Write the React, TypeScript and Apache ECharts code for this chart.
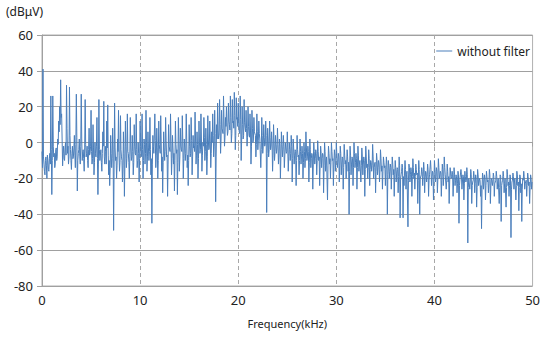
import React, { useEffect, useRef } from "react";
import * as echarts from "echarts";

const xTicks = [0, 10, 20, 30, 40, 50];
const yTicks = [-80, -60, -40, -20, 0, 20, 40, 60];
const seriesName = "without filter";
const xStep = 0.1;

// dBµV peak readings, 10 samples per kHz at f = k.0 … k.9
const v00 = [-5, 41, -12, -18, -8, -20, -10, -16, -6, 26];
const v01 = [-29, 26, -8, -14, -4, -10, 2, 12, 20, 35];
const v02 = [16, -13, -2, -10, 0, 32, -6, -12, 31, -4];
const v03 = [-15, -2, -8, 4, -14, 27, -27, -6, 2, -12];
const v04 = [27, -10, -4, -16, 24, -8, -2, -14, 8, -6];
const v05 = [18, -12, 10, -18, 0, -8, 14, -29, 24, -10];
const v06 = [-4, -16, 6, 23, -12, -2, 12, 21, -18, -24];
const v07 = [4, -14, 8, -49, 22, -10, -20, 2, 18, -16];
const v08 = [15, -8, -22, 6, -30, 12, -14, 16, -6, -20];
const v09 = [14, -10, 4, -18, 10, -6, 16, -14, 0, -22];
const v10 = [12, -8, 16, -20, 2, -12, 18, -16, 6, -10];
const v11 = [14, -18, -45, 4, -6, 16, -14, 8, -20, 12];
const v12 = [-4, 15, -16, -28, 6, -10, 14, -8, -30, 10];
const v13 = [-2, 16, -18, 4, -12, -27, 12, -6, -29, 14];
const v14 = [-16, 8, -4, 15, -20, 2, -10, 16, -14, -24];
const v15 = [10, -8, 14, -18, 4, -2, 17, -12, 6, -20];
const v16 = [12, -6, 16, -16, 0, 14, -10, 8, -18, 15];
const v17 = [-4, 12, -14, 6, 16, -8, 18, -33, 10, 22];
const v18 = [2, 24, -6, 18, 8, 26, -2, 14, 20, 4];
const v19 = [22, 10, 26, 0, 24, 12, 28, -4, 25, 14];
const v20 = [22, 6, 26, -10, 20, 2, 24, 8, 18, -2];
const v21 = [20, 4, 16, -12, 18, 0, 14, 6, -8, 16];
const v22 = [-4, 12, 2, -14, 14, -6, 10, -2, 12, -39];
const v23 = [8, -8, 12, -4, 6, -16, 10, -10, 4, -6];
const v24 = [8, -12, 2, -20, 6, -8, 4, -14, 0, -6];
const v25 = [6, -16, 0, -10, 4, -22, 2, -12, -4, -24];
const v26 = [4, -8, -18, 2, -12, -2, -20, 0, -14, 6];
const v27 = [-10, -2, -22, 2, -14, -6, -26, 0, -12, -4];
const v28 = [-18, 1, -10, -24, -2, -14, -6, -28, 0, -16];
const v29 = [-8, -32, -2, -12, -20, 0, -10, -24, -4, -16];
const v30 = [0, -14, -6, -22, -2, -18, -8, -26, -1, -12];
const v31 = [-20, -4, -16, -40, -2, -18, -8, -24, 0, -14];
const v32 = [-6, -26, -2, -16, -10, -22, -3, -18, -8, -30];
const v33 = [-2, -14, -20, -4, -24, -10, -16, -1, -20, -12];
const v34 = [-28, -6, -18, -10, -22, -4, -16, -26, -8, -14];
const v35 = [-24, -8, -40, -10, -20, -12, -26, -8, -18, -30];
const v36 = [-10, -22, -14, -28, -8, -42, -18, -12, -42, -24];
const v37 = [-10, -26, -16, -47, -12, -22, -14, -30, -9, -20];
const v38 = [-26, -12, -18, -34, -10, -40, -20, -14, -24, -11];
const v39 = [-28, -16, -22, -12, -30, -18, -10, -24, -16, -32];
const v40 = [-10, -22, -14, -28, -9, -20, -16, -30, -12, -24];
const v41 = [-8, -18, -26, -12, -22, -34, -14, -20, -16, -30];
const v42 = [-14, -24, -18, -28, -16, -45, -20, -15, -26, -18];
const v43 = [-32, -16, -22, -14, -56, -20, -26, -15, -34, -22];
const v44 = [-16, -28, -18, -36, -15, -24, -20, -30, -48, -17];
const v45 = [-26, -18, -32, -16, -22, -28, -15, -34, -20, -24];
const v46 = [-17, -30, -22, -16, -26, -20, -34, -18, -44, -22];
const v47 = [-16, -28, -20, -36, -15, -24, -30, -18, -53, -22];
const v48 = [-17, -26, -20, -32, -16, -24, -38, -18, -28, -44];
const v49 = [-20, -16, -26, -22, -30, -17, -24, -34, -18, -26];
const v50 = [-22];

// dBµV core-band readings in between, at f = k.05 … k.95
const c00 = [-14, -8, -16, -10, -13, -7, -15, -9, -12, -4];
const c01 = [-10, -2, -6, -12, -3, -8, -1, 6, 10, 14];
const c02 = [2, -6, -9, -3, -7, 8, -2, -8, 4, -10];
const c03 = [-6, -9, -3, -7, -1, 3, -10, -4, -8, -2];
const c04 = [2, -5, -9, -3, -1, -6, -10, -4, -7, -2];
const c05 = [-5, -9, -3, -11, -6, -2, -9, -12, -4, -7];
const c06 = [-11, -6, -2, -8, -5, -12, -3, -7, -10, -14];
const c07 = [-6, -9, -4, -12, -3, -8, -13, -5, -7, -11];
const c08 = [-4, -10, -13, -6, -12, -2, -9, -5, -11, -8];
const c09 = [-3, -8, -5, -11, -2, -7, -4, -10, -6, -9];
const c10 = [-2, -7, -4, -10, -1, -6, 0, -8, -3, -5];
const c11 = [-4, -9, -12, -2, -6, 1, -7, -3, -10, -1];
const c12 = [-6, 0, -8, -11, -3, -5, 1, -7, -12, -2];
const c13 = [-5, 0, -9, -3, -6, -10, -1, -4, -11, 1];
const c14 = [-8, -2, -5, 0, -9, -3, -6, 2, -7, -10];
const c15 = [-2, -6, 1, -8, -3, -5, 2, -7, -1, -9];
const c16 = [0, -4, 2, -7, -2, 3, -5, -1, -8, 2];
const c17 = [-3, 2, -6, 0, 4, -2, 5, -8, 2, 7];
const c18 = [4, 10, 2, 8, 5, 12, 3, 9, 11, 6];
const c19 = [12, 7, 14, 5, 11, 8, 15, 4, 13, 9];
const c20 = [12, 5, 13, 2, 10, 4, 11, 6, 8, 3];
const c21 = [9, 3, 7, -2, 8, 2, 6, 4, -1, 6];
const c22 = [1, 5, 2, -4, 4, -2, 3, -1, 4, -6];
const c23 = [2, -4, 3, -2, 0, -7, 1, -5, -1, -3];
const c24 = [-1, -6, -2, -8, -1, -4, -2, -7, -3, -5];
const c25 = [-3, -8, -4, -6, -2, -9, -3, -7, -5, -10];
const c26 = [-4, -7, -10, -5, -8, -6, -11, -5, -9, -3];
const c27 = [-8, -5, -11, -4, -9, -7, -12, -5, -9, -6];
const c28 = [-10, -5, -8, -12, -6, -9, -7, -13, -5, -10];
const c29 = [-8, -13, -6, -9, -11, -5, -9, -12, -7, -10];
const c30 = [-7, -11, -8, -13, -6, -12, -9, -14, -7, -10];
const c31 = [-12, -8, -11, -16, -7, -12, -9, -14, -6, -11];
const c32 = [-9, -14, -7, -12, -10, -13, -8, -12, -10, -15];
const c33 = [-8, -12, -14, -9, -15, -11, -13, -8, -14, -11];
const c34 = [-16, -10, -14, -12, -15, -9, -13, -16, -11, -13];
const c35 = [-15, -12, -18, -13, -16, -14, -17, -12, -15, -18];
const c36 = [-14, -17, -15, -19, -13, -20, -16, -14, -19, -17];
const c37 = [-15, -18, -16, -21, -14, -18, -16, -19, -14, -17];
const c38 = [-19, -15, -17, -21, -15, -20, -18, -16, -19, -15];
const c39 = [-20, -17, -19, -15, -21, -18, -15, -19, -17, -21];
const c40 = [-15, -19, -16, -20, -14, -18, -17, -21, -15, -19];
const c41 = [-14, -18, -21, -16, -19, -22, -17, -19, -18, -22];
const c42 = [-18, -21, -19, -23, -18, -24, -20, -18, -22, -19];
const c43 = [-23, -19, -21, -18, -25, -20, -22, -18, -24, -21];
const c44 = [-19, -23, -20, -25, -18, -22, -21, -24, -26, -19];
const c45 = [-22, -20, -24, -19, -21, -23, -18, -24, -21, -22];
const c46 = [-19, -23, -21, -19, -22, -20, -25, -19, -24, -21];
const c47 = [-19, -23, -20, -25, -18, -22, -24, -19, -26, -21];
const c48 = [-19, -22, -20, -24, -18, -22, -25, -19, -23, -26];
const c49 = [-21, -19, -23, -21, -24, -19, -22, -25, -20, -22];

const peakRows = [
  v00, v01, v02, v03, v04, v05, v06, v07, v08, v09,
  v10, v11, v12, v13, v14, v15, v16, v17, v18, v19,
  v20, v21, v22, v23, v24, v25, v26, v27, v28, v29,
  v30, v31, v32, v33, v34, v35, v36, v37, v38, v39,
  v40, v41, v42, v43, v44, v45, v46, v47, v48, v49,
];
const coreRows = [
  c00, c01, c02, c03, c04, c05, c06, c07, c08, c09,
  c10, c11, c12, c13, c14, c15, c16, c17, c18, c19,
  c20, c21, c22, c23, c24, c25, c26, c27, c28, c29,
  c30, c31, c32, c33, c34, c35, c36, c37, c38, c39,
  c40, c41, c42, c43, c44, c45, c46, c47, c48, c49,
];

function buildData(): [number, number][] {
  const out: [number, number][] = [];
  peakRows.forEach((row, k) => {
    row.forEach((v, j) => {
      const f = k + j * xStep;
      out.push([Number(f.toFixed(2)), v]);
      out.push([Number((f + xStep / 2).toFixed(3)), coreRows[k][j]]);
    });
  });
  out.push([50, v50[0]]);
  return out;
}

export default function App() {
  const ref = useRef<HTMLDivElement>(null);
  useEffect(() => {
    if (!ref.current) return;
    const chart = echarts.init(ref.current, null, { renderer: "svg" });
    const font = "'Noto Sans', sans-serif";
    chart.setOption({
      animation: false,
      backgroundColor: "#fff",
      textStyle: { fontFamily: font },
      grid: {
        left: 42,
        right: 7,
        top: 35,
        bottom: 52,
        show: true,
        borderColor: "#b0b0b0",
        borderWidth: 1,
      },
      legend: {
        right: 8,
        top: 40,
        itemWidth: 16,
        itemHeight: 1,
        itemGap: 4,
        icon: "rect",
        textStyle: { fontSize: 12, color: "#222", fontFamily: font },
        data: [seriesName],
      },
      graphic: [
        {
          type: "text",
          left: 6,
          top: 5,
          style: { text: "(dBμV)", fontSize: 12, fill: "#222", fontFamily: font },
        },
      ],
      xAxis: {
        type: "value",
        min: xTicks[0],
        max: xTicks[xTicks.length - 1],
        interval: 10,
        name: "Frequency(kHz)",
        nameLocation: "middle",
        nameGap: 32,
        nameTextStyle: { fontSize: 11, color: "#222", fontFamily: font },
        axisLine: { show: true, lineStyle: { color: "#a0a0a0" } },
        axisTick: { show: true, length: 4, lineStyle: { color: "#a0a0a0" } },
        axisLabel: { fontSize: 13, color: "#222", margin: 7 },
        splitLine: {
          show: true,
          showMinLine: false,
          showMaxLine: false,
          lineStyle: { color: "#a8a8a8", type: [4, 3] },
        },
      },
      yAxis: {
        type: "value",
        min: yTicks[0],
        max: yTicks[yTicks.length - 1],
        interval: 20,
        axisLine: { show: true, lineStyle: { color: "#a0a0a0" } },
        axisTick: { show: true, length: 5, lineStyle: { color: "#a0a0a0" } },
        axisLabel: { fontSize: 13, color: "#222", margin: 9 },
        splitLine: { show: true, lineStyle: { color: "#a0a0a0" } },
      },
      series: [
        {
          name: seriesName,
          type: "line",
          data: buildData(),
          showSymbol: false,
          symbol: "none",
          lineStyle: { color: "#4a7ebb", width: 1 },
          itemStyle: { color: "#4a7ebb" },
        },
      ],
    });
    return () => chart.dispose();
  }, []);
  return (
    <div
      ref={ref}
      style={{ position: "fixed", left: 0, top: 0, width: 543, height: 338 }}
    />
  );
}
